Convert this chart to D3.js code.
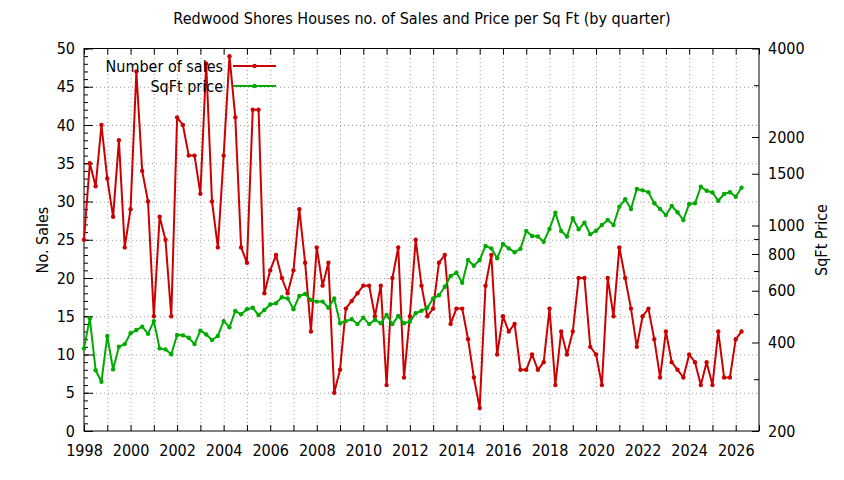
<!DOCTYPE html>
<html>
<head>
<meta charset="utf-8">
<script src="https://cdn.jsdelivr.net/npm/d3@7"></script>
<style>
  html, body { margin: 0; padding: 0; background: #fff; }
  svg { display: block; }
  text { font-family: "DejaVu Sans Condensed", "DejaVu Sans", sans-serif; fill: #000; }
</style>
</head>
<body>
<svg id="chart" width="844" height="480"></svg>
<script>
// ---------------- DATA ----------------
const firstYear = 1998;
const quarterNames = ["Q1", "Q2", "Q3", "Q4"];
// number of sales per quarter, 1998 Q1 .. 2026 Q2
const sales = [
  25,35,32,40,33,28,38,24,29,47,34,30,15,28,25,15,41,40,36,36,31,48,30,24,36,49,41,24,22,42,
  42,18,21,23,20,18,21,29,22,13,24,19,22,5,8,16,17,18,19,19,15,19,6,20,24,7,15,25,
  19,15,16,22,23,14,16,16,12,7,3,19,23,10,15,13,14,8,8,10,8,9,16,6,13,10,13,20,20,11,
  10,6,20,15,24,20,16,11,15,16,12,7,13,9,8,7,10,9,6,9,6,13,7,7,12,13
];
// price per square foot per quarter (right axis, log)
const sqftPrice = [
  382,483,322,294,421,324,387,395,430,441,453,428,473,382,379,365,424,423,415,395,439,426,408,421,473,451,512,499,519,525,
  496,516,539,544,570,565,519,576,585,558,551,551,525,565,465,473,480,462,486,462,478,465,496,462,492,465,471,503,
  513,525,565,579,619,673,691,639,763,730,763,852,836,774,865,836,811,833,958,921,917,881,973,1106,958,917,1058,971,1022,933,
  960,1004,1044,1004,1159,1228,1138,1331,1317,1297,1190,1138,1086,1165,1109,1044,1184,1190,1355,1313,1295,1214,1280,1297,1253,1345
];
// quarter categories
const quarters = sales.map((_, i) => ({
  label: (firstYear + Math.floor(i / 4)) + " " + quarterNames[i % 4],
  t: firstYear + Math.floor(i / 4) + (i % 4) / 4
}));
const yearTicks = d3.range(1998, 2028, 1);
const yearLabels = d3.range(1998, 2027, 2);
const salesTicks = [0,5,10,15,20,25,30,35,40,45,50];
const salesMinorTicks = d3.range(0, 51, 1);
const priceTicks = [200,400,600,800,1000,1500,2000,4000];
const priceMinorTicks = [300,500,700,900,3000];

const seriesNames = ["Number of sales", "SqFt price"];
const seriesColors = ["#cc0000", "#00aa00"];
const titleText = "Redwood Shores Houses no. of Sales and Price per Sq Ft (by quarter)";

// ---------------- LAYOUT ----------------
const W = 844, H = 480;
const L = 84, R = 759, T = 48.5, B = 431;

const svg = d3.select("#chart");
svg.append("rect").attr("width", W).attr("height", H).attr("fill", "#fff");

const x = d3.scaleLinear().domain([1998, 2027]).range([L, R]);
const y = d3.scaleLinear().domain([0, 50]).range([B, T]);
const y2 = d3.scaleLog().domain([200, 4000]).range([B, T]);

// grid
const gridStyle = g => {
  g.select(".domain").remove();
  g.selectAll("text").remove();
  g.selectAll("line").attr("stroke", "#a0a0a0").attr("stroke-width", 1).attr("stroke-dasharray", "1,3");
};
svg.append("g").attr("transform", `translate(0,${B})`)
  .call(d3.axisBottom(x).tickValues(yearTicks.filter(v => v > 1998 && v < 2027)).tickSize(-(B - T)))
  .call(gridStyle);
svg.append("g").attr("transform", `translate(${L},0)`)
  .call(d3.axisLeft(y).tickValues(salesTicks.filter(v => v > 0 && v < 50)).tickSize(-(R - L)))
  .call(gridStyle);

// axes styling helper
const axStyle = (g, fs) => {
  g.select(".domain").remove();
  g.selectAll("line").attr("stroke", "#000").attr("stroke-width", 1);
  g.selectAll("text").style("font-size", fs + "px").attr("fill", "#000");
};

// bottom axis (ticks inward)
svg.append("g").attr("transform", `translate(0,${B})`)
  .call(d3.axisBottom(x).tickValues(yearTicks).tickSize(-6).tickPadding(14)
    .tickFormat(d => yearLabels.includes(d) ? String(d) : ""))
  .call(g => axStyle(g, 16));
// top mirrored ticks
svg.append("g").attr("transform", `translate(0,${T})`)
  .call(d3.axisTop(x).tickValues(yearTicks).tickSize(-6).tickFormat(""))
  .call(g => axStyle(g, 16));
// left axis major
svg.append("g").attr("transform", `translate(${L},0)`)
  .call(d3.axisLeft(y).tickValues(salesTicks).tickSize(-9).tickPadding(9))
  .call(g => axStyle(g, 16));
// left axis minor
svg.append("g").attr("transform", `translate(${L},0)`)
  .call(d3.axisLeft(y).tickValues(salesMinorTicks).tickSize(-4).tickFormat(""))
  .call(g => axStyle(g, 16));
// right axis major
svg.append("g").attr("transform", `translate(${R},0)`)
  .call(d3.axisRight(y2).tickValues(priceTicks).tickSize(-7).tickPadding(9).tickFormat(d3.format("d")))
  .call(g => axStyle(g, 16));
// right axis minor
svg.append("g").attr("transform", `translate(${R},0)`)
  .call(d3.axisRight(y2).tickValues(priceMinorTicks).tickSize(-5).tickFormat(""))
  .call(g => axStyle(g, 16));

// frame
svg.append("rect").attr("x", L).attr("y", T).attr("width", R - L).attr("height", B - T)
  .attr("fill", "none").attr("stroke", "#000").attr("stroke-width", 1);

// series
const lineSales = d3.line().x((d, i) => x(quarters[i].t)).y(d => y(d));
const linePrice = d3.line().x((d, i) => x(quarters[i].t)).y(d => y2(d));

function drawSeries(values, lineGen, yScale, color) {
  const g = svg.append("g");
  g.append("path").datum(values).attr("d", lineGen)
    .attr("fill", "none").attr("stroke", color).attr("stroke-width", 2).attr("stroke-linejoin", "round");
  g.selectAll("circle").data(values).join("circle")
    .attr("cx", (d, i) => x(quarters[i].t)).attr("cy", d => yScale(d)).attr("r", 2.2).attr("fill", color);
}
drawSeries(sales, lineSales, y, seriesColors[0]);
drawSeries(sqftPrice, linePrice, y2, seriesColors[1]);

// legend
seriesNames.forEach((name, k) => {
  const cy = 66 + k * 20;
  svg.append("text").attr("x", 223).attr("y", cy + 5.5).attr("text-anchor", "end")
    .style("font-size", "16px").text(name);
  svg.append("line").attr("x1", 233).attr("x2", 276).attr("y1", cy).attr("y2", cy)
    .attr("stroke", seriesColors[k]).attr("stroke-width", 2);
  svg.append("circle").attr("cx", 254.5).attr("cy", cy).attr("r", 2.2).attr("fill", seriesColors[k]);
});

// title & axis labels
svg.append("text").attr("x", 422).attr("y", 24).attr("text-anchor", "middle")
  .style("font-size", "16px").text(titleText);
svg.append("text").attr("transform", "translate(48,240) rotate(-90)").attr("text-anchor", "middle")
  .style("font-size", "16px").text("No. Sales");
svg.append("text").attr("transform", "translate(827,240) rotate(-90)").attr("text-anchor", "middle")
  .style("font-size", "16px").text("SqFt Price");
</script>
</body>
</html>
